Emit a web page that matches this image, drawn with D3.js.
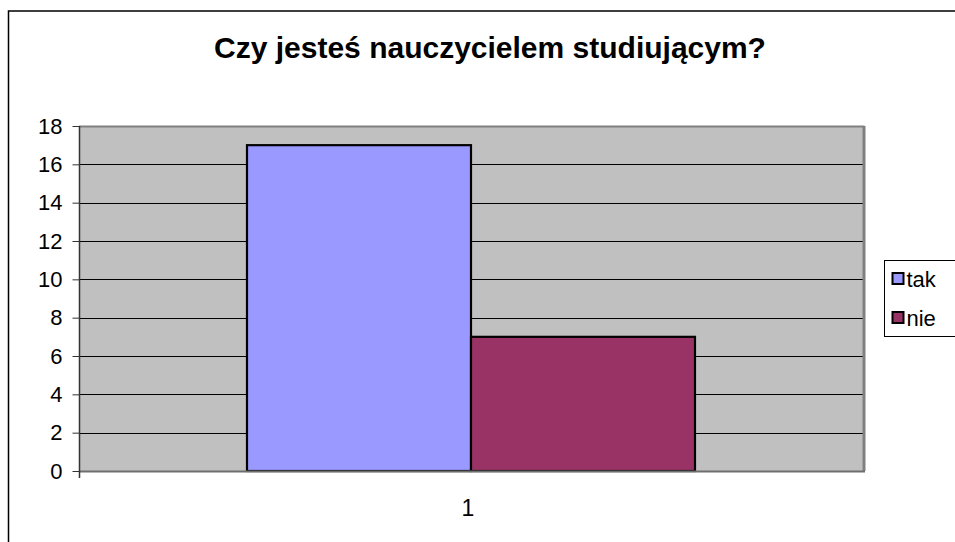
<!DOCTYPE html>
<html>
<head>
<meta charset="utf-8">
<script src="https://cdn.jsdelivr.net/npm/d3@7"></script>
<style>
  body { margin: 0; background: #fff; }
  svg { display: block; font-family: Arial, "Liberation Sans", sans-serif; }
</style>
</head>
<body>
<svg id="chart" width="955" height="542"></svg>
<script>
// chart data
var title = "Czy jesteś nauczycielem studiującym?";
var categories = ["1"];
var seriesNames = ["tak", "nie"];
var seriesValues = [[17], [7]];   // one value per category
var seriesColors = ["#9999ff", "#993366"];
var yTicks = [0, 2, 4, 6, 8, 10, 12, 14, 16, 18];

var svg = d3.select("#chart");
var plot = {left: 79, top: 126, right: 863, bottom: 471};

// outer chart border (runs off the right and bottom edge)
svg.append("rect")
    .attr("x", 8.5).attr("y", 11)
    .attr("width", 1000).attr("height", 600)
    .attr("fill", "none").attr("stroke", "#000").attr("stroke-width", 1.5);

svg.append("text")
    .attr("x", 490).attr("y", 58)
    .attr("text-anchor", "middle")
    .attr("font-size", 30).attr("font-weight", "bold")
    .text(title);

var y = d3.scaleLinear().domain([0, 18]).range([plot.bottom, plot.top]);
var x0 = d3.scaleBand().domain(categories).range([plot.left, plot.right])
    .paddingInner(0).paddingOuter(0);
// excel gap width 150% -> group takes 2/(2+1.5) of the band
var groupW = x0.bandwidth() * 2 / 3.5;
var x1 = d3.scaleBand().domain(seriesNames).range([0, groupW]);

// plot area
svg.append("rect")
    .attr("x", plot.left).attr("y", plot.top)
    .attr("width", plot.right - plot.left).attr("height", plot.bottom - plot.top)
    .attr("fill", "#c0c0c0");

// gridlines
svg.append("g").selectAll("line").data(yTicks.filter(function(d) { return d > 0 && d < 18; }))
    .enter().append("line")
    .attr("x1", plot.left).attr("x2", plot.right)
    .attr("y1", function(d) { return Math.round(y(d)) + 0.5; })
    .attr("y2", function(d) { return Math.round(y(d)) + 0.5; })
    .attr("stroke", "#000").attr("stroke-width", 1);

// plot area border: top and right in gray
svg.append("path")
    .attr("d", "M" + plot.left + "," + (plot.top + 0.5) + "H" + (plot.right + 0.5) + "V" + plot.bottom)
    .attr("fill", "none").attr("stroke", "#808080").attr("stroke-width", 2);
svg.append("line")
    .attr("x1", plot.right + 1.5).attr("x2", plot.right + 1.5)
    .attr("y1", plot.top).attr("y2", plot.bottom)
    .attr("stroke", "#808080").attr("stroke-width", 2);

// bars
var groups = svg.append("g").selectAll("g").data(categories)
    .enter().append("g")
    .attr("transform", function(c) {
        return "translate(" + (x0(c) + (x0.bandwidth() - groupW) / 2) + ",0)";
    });
groups.selectAll("rect")
    .data(function(c, ci) {
        return seriesNames.map(function(s, si) { return {s: s, v: seriesValues[si][ci], color: seriesColors[si]}; });
    })
    .enter().append("rect")
    .attr("x", function(d) { return x1(d.s); })
    .attr("y", function(d) { return y(d.v); })
    .attr("width", x1.bandwidth())
    .attr("height", function(d) { return y(0) - y(d.v); })
    .attr("fill", function(d) { return d.color; })
    .attr("stroke", "#000").attr("stroke-width", 2.2);

// x axis line
svg.append("line")
    .attr("x1", plot.left).attr("x2", plot.right + 2)
    .attr("y1", plot.bottom + 0.5).attr("y2", plot.bottom + 0.5)
    .attr("stroke", "#6e6e6e").attr("stroke-width", 2);

// y axis
var yAxis = d3.axisLeft(y).tickValues(yTicks).tickSize(7).tickPadding(10);
var ya = svg.append("g")
    .attr("transform", "translate(" + (plot.left + 0.5) + ",0)")
    .call(yAxis);
ya.select(".domain").remove();
ya.append("line")
    .attr("x1", 0).attr("x2", 0)
    .attr("y1", plot.top).attr("y2", plot.bottom + 7)
    .attr("stroke", "#333").attr("stroke-width", 1.5);
ya.selectAll(".tick line").attr("stroke", "#333");
ya.selectAll(".tick text")
    .attr("fill", "#000").attr("font-size", 22)
    .attr("font-family", "Arial, 'Liberation Sans', sans-serif");

// x category labels
svg.append("g").selectAll("text").data(categories)
    .enter().append("text")
    .attr("x", function(c) { return x0(c) + x0.bandwidth() / 2 - 3; })
    .attr("y", 516)
    .attr("text-anchor", "middle")
    .attr("font-size", 23)
    .text(function(c) { return c; });

// legend
var legend = svg.append("g").attr("transform", "translate(884.5,260.5)");
legend.append("rect")
    .attr("width", 100).attr("height", 76)
    .attr("fill", "#fff").attr("stroke", "#000").attr("stroke-width", 1);
var items = legend.selectAll("g.item").data(seriesNames)
    .enter().append("g")
    .attr("transform", function(d, i) { return "translate(8," + (18 + i * 39) + ")"; });
items.append("rect")
    .attr("x", 0).attr("y", -5.5)
    .attr("width", 11).attr("height", 11)
    .attr("fill", function(d, i) { return seriesColors[i]; })
    .attr("stroke", "#000").attr("stroke-width", 2);
items.append("text")
    .attr("x", 14).attr("y", 8)
    .attr("font-size", 22)
    .text(function(d) { return d; });
</script>
</body>
</html>
